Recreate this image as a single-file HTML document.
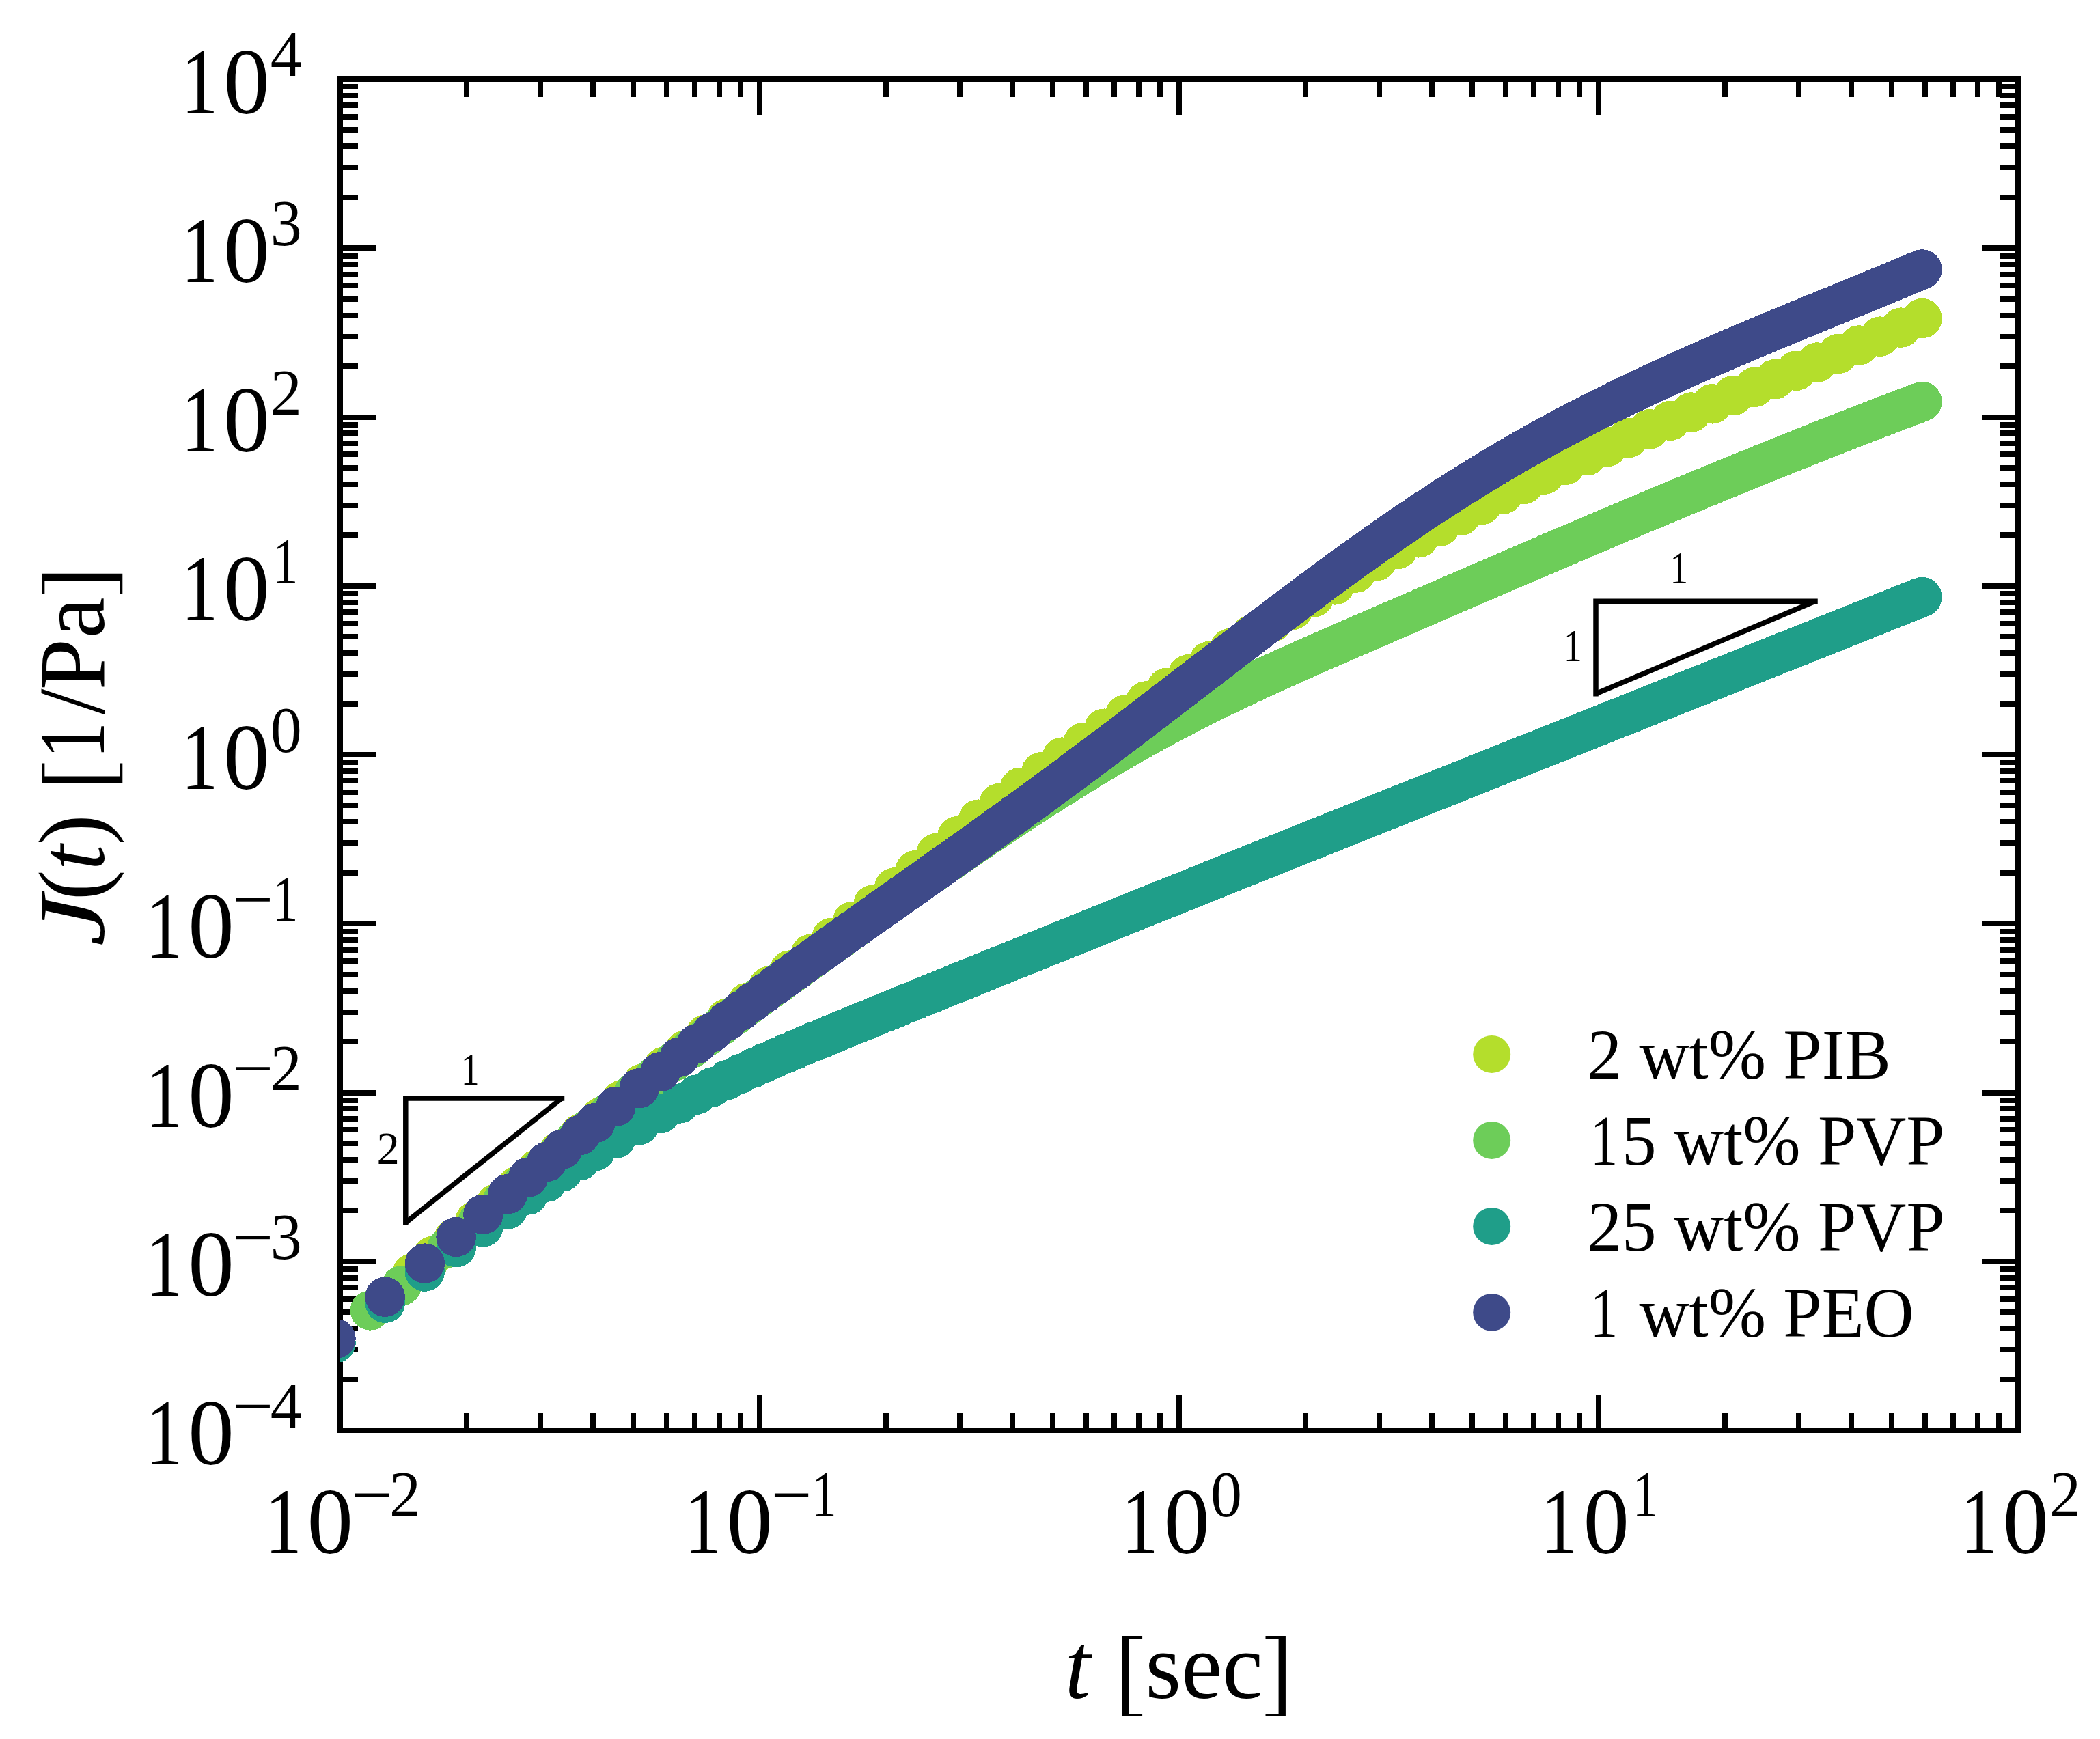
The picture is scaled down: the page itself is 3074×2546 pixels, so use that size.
<!DOCTYPE html>
<html><head><meta charset="utf-8"><title>J(t) creep compliance</title>
<style>html,body{margin:0;padding:0;background:#fff}svg{display:block}text{font-family:"Liberation Serif",serif;fill:#000}.it{font-style:italic}</style></head><body>
<svg width="3074" height="2546" viewBox="0 0 3074 2546">
<rect x="0" y="0" width="3074" height="2546" fill="#fff"/>
<g id="axes" stroke="#000" stroke-width="8" fill="none" stroke-linecap="butt" shape-rendering="crispEdges">
<path d="M682.83 2094.00V2068.00M682.83 116.00V142.00M790.95 2094.00V2068.00M790.95 116.00V142.00M867.66 2094.00V2068.00M867.66 116.00V142.00M927.17 2094.00V2068.00M927.17 116.00V142.00M975.78 2094.00V2068.00M975.78 116.00V142.00M1016.89 2094.00V2068.00M1016.89 116.00V142.00M1052.50 2094.00V2068.00M1052.50 116.00V142.00M1083.90 2094.00V2068.00M1083.90 116.00V142.00M1112.00 2094.00V2042.00M1112.00 116.00V168.00M1296.83 2094.00V2068.00M1296.83 116.00V142.00M1404.95 2094.00V2068.00M1404.95 116.00V142.00M1481.66 2094.00V2068.00M1481.66 116.00V142.00M1541.17 2094.00V2068.00M1541.17 116.00V142.00M1589.78 2094.00V2068.00M1589.78 116.00V142.00M1630.89 2094.00V2068.00M1630.89 116.00V142.00M1666.50 2094.00V2068.00M1666.50 116.00V142.00M1697.90 2094.00V2068.00M1697.90 116.00V142.00M1726.00 2094.00V2042.00M1726.00 116.00V168.00M1910.83 2094.00V2068.00M1910.83 116.00V142.00M2018.95 2094.00V2068.00M2018.95 116.00V142.00M2095.66 2094.00V2068.00M2095.66 116.00V142.00M2155.17 2094.00V2068.00M2155.17 116.00V142.00M2203.78 2094.00V2068.00M2203.78 116.00V142.00M2244.89 2094.00V2068.00M2244.89 116.00V142.00M2280.50 2094.00V2068.00M2280.50 116.00V142.00M2311.90 2094.00V2068.00M2311.90 116.00V142.00M2340.00 2094.00V2042.00M2340.00 116.00V168.00M2524.83 2094.00V2068.00M2524.83 116.00V142.00M2632.95 2094.00V2068.00M2632.95 116.00V142.00M2709.66 2094.00V2068.00M2709.66 116.00V142.00M2769.17 2094.00V2068.00M2769.17 116.00V142.00M2817.78 2094.00V2068.00M2817.78 116.00V142.00M2858.89 2094.00V2068.00M2858.89 116.00V142.00M2894.50 2094.00V2068.00M2894.50 116.00V142.00M2925.90 2094.00V2068.00M2925.90 116.00V142.00M498.00 2019.57H524.00M2954.00 2019.57H2928.00M498.00 1976.03H524.00M2954.00 1976.03H2928.00M498.00 1945.14H524.00M2954.00 1945.14H2928.00M498.00 1921.18H524.00M2954.00 1921.18H2928.00M498.00 1901.60H524.00M2954.00 1901.60H2928.00M498.00 1885.05H524.00M2954.00 1885.05H2928.00M498.00 1870.71H524.00M2954.00 1870.71H2928.00M498.00 1858.06H524.00M2954.00 1858.06H2928.00M498.00 1846.75H550.00M2954.00 1846.75H2902.00M498.00 1772.32H524.00M2954.00 1772.32H2928.00M498.00 1728.78H524.00M2954.00 1728.78H2928.00M498.00 1697.89H524.00M2954.00 1697.89H2928.00M498.00 1673.93H524.00M2954.00 1673.93H2928.00M498.00 1654.35H524.00M2954.00 1654.35H2928.00M498.00 1637.80H524.00M2954.00 1637.80H2928.00M498.00 1623.46H524.00M2954.00 1623.46H2928.00M498.00 1610.81H524.00M2954.00 1610.81H2928.00M498.00 1599.50H550.00M2954.00 1599.50H2902.00M498.00 1525.07H524.00M2954.00 1525.07H2928.00M498.00 1481.53H524.00M2954.00 1481.53H2928.00M498.00 1450.64H524.00M2954.00 1450.64H2928.00M498.00 1426.68H524.00M2954.00 1426.68H2928.00M498.00 1407.10H524.00M2954.00 1407.10H2928.00M498.00 1390.55H524.00M2954.00 1390.55H2928.00M498.00 1376.21H524.00M2954.00 1376.21H2928.00M498.00 1363.56H524.00M2954.00 1363.56H2928.00M498.00 1352.25H550.00M2954.00 1352.25H2902.00M498.00 1277.82H524.00M2954.00 1277.82H2928.00M498.00 1234.28H524.00M2954.00 1234.28H2928.00M498.00 1203.39H524.00M2954.00 1203.39H2928.00M498.00 1179.43H524.00M2954.00 1179.43H2928.00M498.00 1159.85H524.00M2954.00 1159.85H2928.00M498.00 1143.30H524.00M2954.00 1143.30H2928.00M498.00 1128.96H524.00M2954.00 1128.96H2928.00M498.00 1116.31H524.00M2954.00 1116.31H2928.00M498.00 1105.00H550.00M2954.00 1105.00H2902.00M498.00 1030.57H524.00M2954.00 1030.57H2928.00M498.00 987.03H524.00M2954.00 987.03H2928.00M498.00 956.14H524.00M2954.00 956.14H2928.00M498.00 932.18H524.00M2954.00 932.18H2928.00M498.00 912.60H524.00M2954.00 912.60H2928.00M498.00 896.05H524.00M2954.00 896.05H2928.00M498.00 881.71H524.00M2954.00 881.71H2928.00M498.00 869.06H524.00M2954.00 869.06H2928.00M498.00 857.75H550.00M2954.00 857.75H2902.00M498.00 783.32H524.00M2954.00 783.32H2928.00M498.00 739.78H524.00M2954.00 739.78H2928.00M498.00 708.89H524.00M2954.00 708.89H2928.00M498.00 684.93H524.00M2954.00 684.93H2928.00M498.00 665.35H524.00M2954.00 665.35H2928.00M498.00 648.80H524.00M2954.00 648.80H2928.00M498.00 634.46H524.00M2954.00 634.46H2928.00M498.00 621.81H524.00M2954.00 621.81H2928.00M498.00 610.50H550.00M2954.00 610.50H2902.00M498.00 536.07H524.00M2954.00 536.07H2928.00M498.00 492.53H524.00M2954.00 492.53H2928.00M498.00 461.64H524.00M2954.00 461.64H2928.00M498.00 437.68H524.00M2954.00 437.68H2928.00M498.00 418.10H524.00M2954.00 418.10H2928.00M498.00 401.55H524.00M2954.00 401.55H2928.00M498.00 387.21H524.00M2954.00 387.21H2928.00M498.00 374.56H524.00M2954.00 374.56H2928.00M498.00 363.25H550.00M2954.00 363.25H2902.00M498.00 288.82H524.00M2954.00 288.82H2928.00M498.00 245.28H524.00M2954.00 245.28H2928.00M498.00 214.39H524.00M2954.00 214.39H2928.00M498.00 190.43H524.00M2954.00 190.43H2928.00M498.00 170.85H524.00M2954.00 170.85H2928.00M498.00 154.30H524.00M2954.00 154.30H2928.00M498.00 139.96H524.00M2954.00 139.96H2928.00M498.00 127.31H524.00M2954.00 127.31H2928.00"/>
<rect x="498.0" y="116.0" width="2456.0" height="1978.0"/>
</g>
<g id="ticklabels">
<g transform="translate(382.05 2274.00) scale(1 1.024)"><g transform="translate(5.60 0.00) scale(0.8 1)"><text x="0" y="0" font-size="135.0">1</text></g><text x="67.50" y="0" font-size="135.0">0</text><rect x="137.90" y="-85.41" width="49.2" height="4.6" fill="#000"/><text x="187.90" y="-52.73" font-size="92.0">2</text></g>
<g transform="translate(996.05 2274.00) scale(1 1.024)"><g transform="translate(5.60 0.00) scale(0.8 1)"><text x="0" y="0" font-size="135.0">1</text></g><text x="67.50" y="0" font-size="135.0">0</text><rect x="137.90" y="-85.41" width="49.2" height="4.6" fill="#000"/><g transform="translate(191.72 -52.73) scale(0.8 1)"><text x="0" y="0" font-size="92.0">1</text></g></g>
<g transform="translate(1636.00 2274.00) scale(1 1.024)"><g transform="translate(5.60 0.00) scale(0.8 1)"><text x="0" y="0" font-size="135.0">1</text></g><text x="67.50" y="0" font-size="135.0">0</text><text x="136.00" y="-52.73" font-size="92.0">0</text></g>
<g transform="translate(2250.00 2274.00) scale(1 1.024)"><g transform="translate(5.60 0.00) scale(0.8 1)"><text x="0" y="0" font-size="135.0">1</text></g><text x="67.50" y="0" font-size="135.0">0</text><g transform="translate(139.82 -52.73) scale(0.8 1)"><text x="0" y="0" font-size="92.0">1</text></g></g>
<g transform="translate(2864.00 2274.00) scale(1 1.024)"><g transform="translate(5.60 0.00) scale(0.8 1)"><text x="0" y="0" font-size="135.0">1</text></g><text x="67.50" y="0" font-size="135.0">0</text><text x="136.00" y="-52.73" font-size="92.0">2</text></g>
<g transform="translate(207.80 2144.20) scale(1 1.024)"><g transform="translate(5.60 0.00) scale(0.8 1)"><text x="0" y="0" font-size="135.0">1</text></g><text x="67.50" y="0" font-size="135.0">0</text><rect x="137.90" y="-85.41" width="49.2" height="4.6" fill="#000"/><text x="187.90" y="-52.73" font-size="92.0">4</text></g>
<g transform="translate(207.80 1896.95) scale(1 1.024)"><g transform="translate(5.60 0.00) scale(0.8 1)"><text x="0" y="0" font-size="135.0">1</text></g><text x="67.50" y="0" font-size="135.0">0</text><rect x="137.90" y="-85.41" width="49.2" height="4.6" fill="#000"/><text x="187.90" y="-52.73" font-size="92.0">3</text></g>
<g transform="translate(207.80 1649.70) scale(1 1.024)"><g transform="translate(5.60 0.00) scale(0.8 1)"><text x="0" y="0" font-size="135.0">1</text></g><text x="67.50" y="0" font-size="135.0">0</text><rect x="137.90" y="-85.41" width="49.2" height="4.6" fill="#000"/><text x="187.90" y="-52.73" font-size="92.0">2</text></g>
<g transform="translate(207.80 1402.45) scale(1 1.024)"><g transform="translate(5.60 0.00) scale(0.8 1)"><text x="0" y="0" font-size="135.0">1</text></g><text x="67.50" y="0" font-size="135.0">0</text><rect x="137.90" y="-85.41" width="49.2" height="4.6" fill="#000"/><g transform="translate(191.72 -52.73) scale(0.8 1)"><text x="0" y="0" font-size="92.0">1</text></g></g>
<g transform="translate(259.70 1155.20) scale(1 1.024)"><g transform="translate(5.60 0.00) scale(0.8 1)"><text x="0" y="0" font-size="135.0">1</text></g><text x="67.50" y="0" font-size="135.0">0</text><text x="136.00" y="-52.73" font-size="92.0">0</text></g>
<g transform="translate(259.70 907.95) scale(1 1.024)"><g transform="translate(5.60 0.00) scale(0.8 1)"><text x="0" y="0" font-size="135.0">1</text></g><text x="67.50" y="0" font-size="135.0">0</text><g transform="translate(139.82 -52.73) scale(0.8 1)"><text x="0" y="0" font-size="92.0">1</text></g></g>
<g transform="translate(259.70 660.70) scale(1 1.024)"><g transform="translate(5.60 0.00) scale(0.8 1)"><text x="0" y="0" font-size="135.0">1</text></g><text x="67.50" y="0" font-size="135.0">0</text><text x="136.00" y="-52.73" font-size="92.0">2</text></g>
<g transform="translate(259.70 413.45) scale(1 1.024)"><g transform="translate(5.60 0.00) scale(0.8 1)"><text x="0" y="0" font-size="135.0">1</text></g><text x="67.50" y="0" font-size="135.0">0</text><text x="136.00" y="-52.73" font-size="92.0">3</text></g>
<g transform="translate(259.70 166.20) scale(1 1.024)"><g transform="translate(5.60 0.00) scale(0.8 1)"><text x="0" y="0" font-size="135.0">1</text></g><text x="67.50" y="0" font-size="135.0">0</text><text x="136.00" y="-52.73" font-size="92.0">4</text></g>
</g>
<g id="titles">
<g transform="translate(1558.8 2486.0) scale(1 1.024)"><text x="0" y="0" font-size="135.0" class="it">t</text></g>
<path transform="translate(1642.7 2486.0)" d="M0 -90.9H29.4V-86.85000000000001H10.3V23.05H29.4V27.1H0Z"/>
<g transform="translate(1676.6 2486.0) scale(1 1.024)"><text x="0" y="0" font-size="135.0">sec</text></g>
<path transform="translate(1852.5 2486.0)" d="M29.4 -90.9H0V-86.85000000000001H19.099999999999998V23.05H0V27.1H29.4Z"/>
<g transform="translate(152.2 1385.5) rotate(-90) scale(1.25 1.024)"><text x="0" y="0" font-size="135.0" class="it">J</text></g>
<g transform="translate(152.2 1318.2) rotate(-90) scale(1.0 1.024)"><text x="0" y="0" font-size="135.0">(</text></g>
<g transform="translate(152.2 1274.2) rotate(-90) scale(1.0 1.024)"><text x="0" y="0" font-size="135.0" class="it">t</text></g>
<g transform="translate(152.2 1237.3) rotate(-90) scale(1.0 1.024)"><text x="0" y="0" font-size="135.0">)</text></g>
<path transform="translate(152.2 1146.9) rotate(-90)" d="M0 -90.9H29.4V-86.85000000000001H10.3V23.05H29.4V27.1H0Z"/>
<g transform="translate(152.2 1110.7) rotate(-90) scale(0.8 1.024)"><text x="0" y="0" font-size="135.0">1</text></g>
<g transform="translate(152.2 1046.1) rotate(-90) scale(1.0 1.024)"><text x="0" y="0" font-size="135.0">/</text></g>
<g transform="translate(152.2 1010.3) rotate(-90) scale(1.0 1.024)"><text x="0" y="0" font-size="135.0">P</text></g>
<g transform="translate(152.2 934.3) rotate(-90) scale(1.0 1.024)"><text x="0" y="0" font-size="135.0">a</text></g>
<path transform="translate(152.2 869.2) rotate(-90)" d="M29.4 -90.9H0V-86.85000000000001H19.099999999999998V23.05H0V27.1H29.4Z"/>
</g>
<g id="legend">
<circle cx="2183.7" cy="1543.4" r="27.5" fill="#B4DE2C"/>
<g transform="translate(2323.5 1578.6) scale(1 1.024)"><text x="0" y="0" font-size="101.25">2 wt% PIB</text></g>
<circle cx="2183.7" cy="1669.4" r="27.5" fill="#6DCD59"/>
<g transform="translate(2323.5 1704.6) scale(1 1.024)"><g transform="translate(4.20 0.00) scale(0.8 1)"><text x="0" y="0" font-size="101.25">1</text></g><text x="50.62" y="0" font-size="101.25">5 wt% PVP</text></g>
<circle cx="2183.7" cy="1795.4" r="27.5" fill="#1F9E89"/>
<g transform="translate(2323.5 1830.6) scale(1 1.024)"><text x="0" y="0" font-size="101.25">25 wt% PVP</text></g>
<circle cx="2183.7" cy="1921.4" r="27.5" fill="#3E4A89"/>
<g transform="translate(2323.5 1956.6) scale(1 1.024)"><g transform="translate(4.20 0.00) scale(0.8 1)"><text x="0" y="0" font-size="101.25">1</text></g><text x="75.94" y="0" font-size="101.25">wt% PEO</text></g>
</g>
<g id="triangles" stroke="#000" stroke-width="7.5" fill="none" stroke-linecap="square">
<path d="M593.8 1790.0V1607.9M593.8 1607.9H822.5"/>
<path stroke-linecap="butt" d="M822.5 1607.9L593.8 1790.0"/>
<path d="M2336.0 1015.7V880.2M2336.0 880.2H2657.0"/>
<path stroke-linecap="butt" d="M2657.0 880.2L2336.0 1015.7"/>
</g>
<g id="trilabels">
<g transform="translate(675.1 1588) scale(0.8 1.024)"><text x="0" y="0" font-size="66.5">1</text></g>
<g transform="translate(551.5 1703.8) scale(1.0 1.024)"><text x="0" y="0" font-size="66.5">2</text></g>
<g transform="translate(2444.6 853.9) scale(0.8 1.024)"><text x="0" y="0" font-size="66.5">1</text></g>
<g transform="translate(2289.1 968.1) scale(0.8 1.024)"><text x="0" y="0" font-size="66.5">1</text></g>
</g>
<clipPath id="pc"><rect x="498.0" y="116.0" width="2456.0" height="1978.0"/></clipPath><g id="data" clip-path="url(#pc)" shape-rendering="crispEdges"><g fill="#B4DE2C"><circle cx="603.1" cy="1864.6" r="29.25"/><circle cx="633.8" cy="1838.7" r="29.25"/><circle cx="664.5" cy="1813.1" r="29.25"/><circle cx="695.2" cy="1787.7" r="29.25"/><circle cx="725.9" cy="1762.3" r="29.25"/><circle cx="756.6" cy="1736.8" r="29.25"/><circle cx="787.3" cy="1711.3" r="29.25"/><circle cx="818.0" cy="1685.9" r="29.25"/><circle cx="848.7" cy="1660.5" r="29.25"/><circle cx="879.4" cy="1635.5" r="29.25"/><circle cx="910.1" cy="1610.6" r="29.25"/><circle cx="940.8" cy="1586.2" r="29.25"/><circle cx="971.5" cy="1562.1" r="29.25"/><circle cx="1002.2" cy="1538.2" r="29.25"/><circle cx="1032.9" cy="1514.6" r="29.25"/><circle cx="1063.6" cy="1491.1" r="29.25"/><circle cx="1094.3" cy="1467.6" r="29.25"/><circle cx="1125.0" cy="1444.2" r="29.25"/><circle cx="1155.7" cy="1420.6" r="29.25"/><circle cx="1186.4" cy="1397.0" r="29.25"/><circle cx="1217.1" cy="1373.1" r="29.25"/><circle cx="1247.8" cy="1348.9" r="29.25"/><circle cx="1278.5" cy="1324.4" r="29.25"/><circle cx="1309.2" cy="1299.4" r="29.25"/><circle cx="1339.9" cy="1274.3" r="29.25"/><circle cx="1370.6" cy="1249.2" r="29.25"/><circle cx="1401.3" cy="1224.2" r="29.25"/><circle cx="1432.0" cy="1199.7" r="29.25"/><circle cx="1462.7" cy="1175.9" r="29.25"/><circle cx="1493.4" cy="1152.8" r="29.25"/><circle cx="1524.1" cy="1130.4" r="29.25"/><circle cx="1554.8" cy="1108.6" r="29.25"/><circle cx="1585.5" cy="1087.4" r="29.25"/><circle cx="1616.2" cy="1066.7" r="29.25"/><circle cx="1646.9" cy="1046.4" r="29.25"/><circle cx="1677.6" cy="1026.4" r="29.25"/><circle cx="1708.3" cy="1006.8" r="29.25"/><circle cx="1739.0" cy="987.4" r="29.25"/><circle cx="1769.7" cy="968.2" r="29.25"/><circle cx="1800.4" cy="949.1" r="29.25"/><circle cx="1831.1" cy="930.1" r="29.25"/><circle cx="1861.8" cy="911.3" r="29.25"/><circle cx="1892.5" cy="892.8" r="29.25"/><circle cx="1923.2" cy="874.4" r="29.25"/><circle cx="1953.9" cy="856.4" r="29.25"/><circle cx="1984.6" cy="838.6" r="29.25"/><circle cx="2015.3" cy="821.2" r="29.25"/><circle cx="2046.0" cy="804.0" r="29.25"/><circle cx="2076.7" cy="787.3" r="29.25"/><circle cx="2107.4" cy="770.8" r="29.25"/><circle cx="2138.1" cy="754.8" r="29.25"/><circle cx="2168.8" cy="739.1" r="29.25"/><circle cx="2199.5" cy="723.9" r="29.25"/><circle cx="2230.2" cy="709.1" r="29.25"/><circle cx="2260.9" cy="694.7" r="29.25"/><circle cx="2291.6" cy="680.7" r="29.25"/><circle cx="2322.3" cy="667.2" r="29.25"/><circle cx="2353.0" cy="653.9" r="29.25"/><circle cx="2383.7" cy="641.0" r="29.25"/><circle cx="2414.4" cy="628.3" r="29.25"/><circle cx="2445.1" cy="615.8" r="29.25"/><circle cx="2475.8" cy="603.5" r="29.25"/><circle cx="2506.5" cy="591.3" r="29.25"/><circle cx="2537.2" cy="579.1" r="29.25"/><circle cx="2567.9" cy="567.0" r="29.25"/><circle cx="2598.6" cy="554.9" r="29.25"/><circle cx="2629.3" cy="542.8" r="29.25"/><circle cx="2660.0" cy="530.5" r="29.25"/><circle cx="2690.7" cy="518.1" r="29.25"/><circle cx="2721.4" cy="505.5" r="29.25"/><circle cx="2752.1" cy="492.7" r="29.25"/><circle cx="2782.8" cy="479.6" r="29.25"/><circle cx="2813.5" cy="466.2" r="29.25"/></g><g fill="#6DCD59"><circle cx="541.9" cy="1918.4" r="29.25"/><circle cx="587.7" cy="1882.3" r="29.25"/><circle cx="625.0" cy="1852.1" r="29.25"/><circle cx="654.1" cy="1827.6" r="29.25"/><circle cx="699.4" cy="1789.2" r="29.25"/><circle cx="735.0" cy="1758.9" r="29.25"/><circle cx="764.9" cy="1733.6" r="29.25"/><circle cx="792.5" cy="1710.4" r="29.25"/><circle cx="815.5" cy="1691.1" r="29.25"/><circle cx="841.0" cy="1670.0" r="29.25"/><circle cx="863.5" cy="1651.6" r="29.25"/><circle cx="893.5" cy="1627.3" r="29.25"/><circle cx="927.5" cy="1600.2" r="29.25"/><circle cx="958.7" cy="1575.7" r="29.25"/><circle cx="986.6" cy="1554.1" r="29.25"/><circle cx="1011.9" cy="1534.8" r="29.25"/><circle cx="1035.0" cy="1517.3" r="29.25"/><circle cx="1056.2" cy="1501.3" r="29.25"/><circle cx="1075.9" cy="1486.6" r="29.25"/><circle cx="1094.2" cy="1473.0" r="29.25"/><circle cx="1111.3" cy="1460.4" r="29.25"/><circle cx="1127.4" cy="1448.5" r="29.25"/><circle cx="1142.6" cy="1437.4" r="29.25"/><circle cx="1157.0" cy="1427.0" r="29.25"/><circle cx="1170.6" cy="1417.1" r="29.25"/><circle cx="1183.6" cy="1407.7" r="29.25"/><circle cx="1196.0" cy="1398.7" r="29.25"/><circle cx="1207.8" cy="1390.2" r="29.25"/><circle cx="1219.1" cy="1382.1" r="29.25"/><circle cx="1230.0" cy="1374.3" r="29.25"/><circle cx="1240.4" cy="1366.9" r="29.25"/><circle cx="1250.4" cy="1359.7" r="29.25"/><circle cx="1260.1" cy="1352.8" r="29.25"/><circle cx="1269.5" cy="1346.2" r="29.25"/><circle cx="1278.5" cy="1339.7" r="29.25"/><circle cx="1287.2" cy="1333.5" r="29.25"/><circle cx="1295.7" cy="1327.5" r="29.25"/><circle cx="1303.9" cy="1321.7" r="29.25"/><circle cx="1311.8" cy="1316.1" r="29.25"/><circle cx="1319.5" cy="1310.7" r="29.25"/><circle cx="1327.0" cy="1305.4" r="29.25"/><circle cx="1334.3" cy="1300.2" r="29.25"/><circle cx="1341.4" cy="1295.2" r="29.25"/><circle cx="1348.3" cy="1290.4" r="29.25"/><circle cx="1355.1" cy="1285.6" r="29.25"/><circle cx="1361.6" cy="1281.0" r="29.25"/><circle cx="1368.1" cy="1276.6" r="29.25"/><circle cx="1374.3" cy="1272.2" r="29.25"/><circle cx="1380.4" cy="1267.9" r="29.25"/><circle cx="1386.4" cy="1263.8" r="29.25"/><circle cx="1392.3" cy="1259.7" r="29.25"/><circle cx="1398.0" cy="1255.8" r="29.25"/><circle cx="1403.6" cy="1251.9" r="29.25"/><circle cx="1409.1" cy="1248.1" r="29.25"/><circle cx="1414.5" cy="1244.4" r="29.25"/><circle cx="1419.8" cy="1240.8" r="29.25"/><circle cx="1424.9" cy="1237.3" r="29.25"/><circle cx="1430.0" cy="1233.8" r="29.25"/><circle cx="1435.0" cy="1230.4" r="29.25"/><circle cx="1439.9" cy="1227.1" r="29.25"/><circle cx="1444.7" cy="1223.8" r="29.25"/><circle cx="1449.4" cy="1220.6" r="29.25"/><circle cx="1454.0" cy="1217.5" r="29.25"/><circle cx="1458.6" cy="1214.5" r="29.25"/><circle cx="1463.0" cy="1211.5" r="29.25"/><circle cx="1467.5" cy="1208.5" r="29.25"/><circle cx="1471.8" cy="1205.6" r="29.25"/><circle cx="1476.0" cy="1202.8" r="29.25"/><circle cx="1480.2" cy="1200.0" r="29.25"/><circle cx="1484.4" cy="1197.2" r="29.25"/><circle cx="1488.4" cy="1194.5" r="29.25"/><circle cx="1492.4" cy="1191.9" r="29.25"/><circle cx="1496.4" cy="1189.3" r="29.25"/><circle cx="1500.3" cy="1186.7" r="29.25"/><circle cx="1504.1" cy="1184.2" r="29.25"/><circle cx="1507.9" cy="1181.8" r="29.25"/><circle cx="1511.6" cy="1179.3" r="29.25"/><circle cx="1515.3" cy="1176.9" r="29.25"/><circle cx="1518.9" cy="1174.6" r="29.25"/><circle cx="1522.5" cy="1172.3" r="29.25"/><circle cx="1526.0" cy="1170.0" r="29.25"/><circle cx="1529.5" cy="1167.8" r="29.25"/><circle cx="1532.9" cy="1165.6" r="29.25"/><circle cx="1536.3" cy="1163.4" r="29.25"/><circle cx="1539.7" cy="1161.2" r="29.25"/><circle cx="1543.0" cy="1159.1" r="29.25"/><circle cx="1546.3" cy="1157.0" r="29.25"/><circle cx="1549.5" cy="1155.0" r="29.25"/><circle cx="1552.7" cy="1153.0" r="29.25"/><circle cx="1555.8" cy="1151.0" r="29.25"/><circle cx="1559.0" cy="1149.0" r="29.25"/><circle cx="1562.0" cy="1147.1" r="29.25"/><circle cx="1565.1" cy="1145.2" r="29.25"/><circle cx="1568.1" cy="1143.3" r="29.25"/><polyline points="1568.1,1143.3 1572.1,1140.8 1576.1,1138.3 1580.1,1135.9 1584.1,1133.4 1588.1,1130.9 1592.1,1128.5 1596.1,1126.0 1600.1,1123.6 1604.1,1121.2 1608.1,1118.8 1612.1,1116.4 1616.1,1114.0 1620.1,1111.6 1624.1,1109.2 1628.1,1106.9 1632.1,1104.5 1636.1,1102.2 1640.1,1099.8 1644.1,1097.5 1648.1,1095.2 1652.1,1092.9 1656.1,1090.6 1660.1,1088.3 1664.1,1086.0 1668.1,1083.8 1672.1,1081.5 1676.1,1079.3 1680.1,1077.0 1684.1,1074.8 1688.1,1072.6 1692.1,1070.4 1696.1,1068.2 1700.1,1066.1 1704.1,1063.9 1708.1,1061.8 1712.1,1059.6 1716.1,1057.5 1720.1,1055.4 1724.1,1053.3 1728.1,1051.2 1732.1,1049.1 1736.1,1047.0 1740.1,1045.0 1744.1,1042.9 1748.1,1040.9 1752.1,1038.8 1756.1,1036.8 1760.1,1034.8 1764.1,1032.8 1768.1,1030.8 1772.1,1028.8 1776.1,1026.8 1780.1,1024.9 1784.1,1022.9 1788.1,1020.9 1792.1,1019.0 1796.1,1017.1 1800.1,1015.1 1804.1,1013.2 1808.1,1011.3 1812.1,1009.4 1816.1,1007.5 1820.1,1005.6 1824.1,1003.7 1828.1,1001.8 1832.1,1000.0 1836.1,998.1 1840.1,996.2 1844.1,994.4 1848.1,992.5 1852.1,990.7 1856.1,988.9 1860.1,987.0 1864.1,985.2 1868.1,983.4 1872.1,981.6 1876.1,979.8 1880.1,978.0 1884.1,976.2 1888.1,974.4 1892.1,972.6 1896.1,970.8 1900.1,969.0 1904.1,967.2 1908.1,965.5 1912.1,963.7 1916.1,961.9 1920.1,960.2 1924.1,958.4 1928.1,956.6 1932.1,954.9 1936.1,953.1 1940.1,951.4 1944.1,949.6 1948.1,947.9 1952.1,946.1 1956.1,944.4 1960.1,942.7 1964.1,940.9 1968.1,939.2 1972.1,937.4 1976.1,935.7 1980.1,934.0 1984.1,932.2 1988.1,930.5 1992.1,928.8 1996.1,927.0 2000.1,925.3 2004.1,923.6 2008.1,921.8 2012.1,920.1 2016.1,918.4 2020.1,916.6 2024.1,914.9 2028.1,913.2 2032.1,911.4 2036.1,909.7 2040.1,908.0 2044.1,906.2 2048.1,904.5 2052.1,902.8 2056.1,901.0 2060.1,899.3 2064.1,897.6 2068.1,895.8 2072.1,894.1 2076.1,892.4 2080.1,890.6 2084.1,888.9 2088.1,887.2 2092.1,885.4 2096.1,883.7 2100.1,882.0 2104.1,880.3 2108.1,878.5 2112.1,876.8 2116.1,875.1 2120.1,873.3 2124.1,871.6 2128.1,869.9 2132.1,868.1 2136.1,866.4 2140.1,864.7 2144.1,863.0 2148.1,861.2 2152.1,859.5 2156.1,857.8 2160.1,856.1 2164.1,854.3 2168.1,852.6 2172.1,850.9 2176.1,849.2 2180.1,847.4 2184.1,845.7 2188.1,844.0 2192.1,842.3 2196.1,840.5 2200.1,838.8 2204.1,837.1 2208.1,835.4 2212.1,833.7 2216.1,831.9 2220.1,830.2 2224.1,828.5 2228.1,826.8 2232.1,825.1 2236.1,823.3 2240.1,821.6 2244.1,819.9 2248.1,818.2 2252.1,816.5 2256.1,814.8 2260.1,813.1 2264.1,811.3 2268.1,809.6 2272.1,807.9 2276.1,806.2 2280.1,804.5 2284.1,802.8 2288.1,801.1 2292.1,799.4 2296.1,797.7 2300.1,796.0 2304.1,794.3 2308.1,792.6 2312.1,790.9 2316.1,789.2 2320.1,787.5 2324.1,785.8 2328.1,784.1 2332.1,782.4 2336.1,780.7 2340.1,779.0 2344.1,777.3 2348.1,775.6 2352.1,773.9 2356.1,772.2 2360.1,770.5 2364.1,768.8 2368.1,767.1 2372.1,765.4 2376.1,763.7 2380.1,762.1 2384.1,760.4 2388.1,758.7 2392.1,757.0 2396.1,755.3 2400.1,753.6 2404.1,752.0 2408.1,750.3 2412.1,748.6 2416.1,746.9 2420.1,745.3 2424.1,743.6 2428.1,741.9 2432.1,740.2 2436.1,738.6 2440.1,736.9 2444.1,735.2 2448.1,733.6 2452.1,731.9 2456.1,730.2 2460.1,728.6 2464.1,726.9 2468.1,725.2 2472.1,723.6 2476.1,721.9 2480.1,720.3 2484.1,718.6 2488.1,717.0 2492.1,715.3 2496.1,713.7 2500.1,712.0 2504.1,710.4 2508.1,708.7 2512.1,707.1 2516.1,705.4 2520.1,703.8 2524.1,702.1 2528.1,700.5 2532.1,698.9 2536.1,697.2 2540.1,695.6 2544.1,694.0 2548.1,692.3 2552.1,690.7 2556.1,689.1 2560.1,687.4 2564.1,685.8 2568.1,684.2 2572.1,682.6 2576.1,680.9 2580.1,679.3 2584.1,677.7 2588.1,676.1 2592.1,674.5 2596.1,672.9 2600.1,671.2 2604.1,669.6 2608.1,668.0 2612.1,666.4 2616.1,664.8 2620.1,663.2 2624.1,661.6 2628.1,660.0 2632.1,658.4 2636.1,656.8 2640.1,655.2 2644.1,653.6 2648.1,652.0 2652.1,650.5 2656.1,648.9 2660.1,647.3 2664.1,645.7 2668.1,644.1 2672.1,642.5 2676.1,641.0 2680.1,639.4 2684.1,637.8 2688.1,636.2 2692.1,634.7 2696.1,633.1 2700.1,631.5 2704.1,630.0 2708.1,628.4 2712.1,626.9 2716.1,625.3 2720.1,623.7 2724.1,622.2 2728.1,620.6 2732.1,619.1 2736.1,617.5 2740.1,616.0 2744.1,614.4 2748.1,612.9 2752.1,611.4 2756.1,609.8 2760.1,608.3 2764.1,606.8 2768.1,605.2 2772.1,603.7 2776.1,602.2 2780.1,600.7 2784.1,599.1 2788.1,597.6 2792.1,596.1 2796.1,594.6 2800.1,593.1 2804.1,591.6 2808.1,590.0 2812.1,588.5 2813.5,588.0" fill="none" stroke="#6DCD59" stroke-width="58.5" stroke-linecap="round" stroke-linejoin="round"/></g><g fill="#1F9E89"><circle cx="491.5" cy="1966.1" r="29.25"/><circle cx="563.7" cy="1907.7" r="29.25"/><circle cx="621.8" cy="1861.6" r="29.25"/><circle cx="667.7" cy="1826.2" r="29.25"/><circle cx="707.4" cy="1796.4" r="29.25"/><circle cx="743.0" cy="1770.5" r="29.25"/><circle cx="772.9" cy="1749.5" r="29.25"/><circle cx="800.5" cy="1730.6" r="29.25"/><circle cx="823.5" cy="1715.4" r="29.25"/><circle cx="849.0" cy="1699.0" r="29.25"/><circle cx="871.5" cy="1685.0" r="29.25"/><circle cx="901.5" cy="1666.9" r="29.25"/><circle cx="935.5" cy="1647.3" r="29.25"/><circle cx="966.7" cy="1630.2" r="29.25"/><circle cx="994.6" cy="1615.5" r="29.25"/><circle cx="1019.9" cy="1602.7" r="29.25"/><circle cx="1043.0" cy="1591.4" r="29.25"/><circle cx="1064.2" cy="1581.2" r="29.25"/><circle cx="1083.9" cy="1572.1" r="29.25"/><circle cx="1102.2" cy="1563.7" r="29.25"/><circle cx="1119.3" cy="1556.1" r="29.25"/><circle cx="1135.4" cy="1549.0" r="29.25"/><circle cx="1150.6" cy="1542.4" r="29.25"/><circle cx="1165.0" cy="1536.2" r="29.25"/><circle cx="1178.6" cy="1530.4" r="29.25"/><circle cx="1191.6" cy="1524.9" r="29.25"/><circle cx="1204.0" cy="1519.8" r="29.25"/><circle cx="1215.8" cy="1514.9" r="29.25"/><circle cx="1227.1" cy="1510.2" r="29.25"/><circle cx="1238.0" cy="1505.7" r="29.25"/><circle cx="1248.4" cy="1501.4" r="29.25"/><circle cx="1258.4" cy="1497.3" r="29.25"/><circle cx="1268.1" cy="1493.4" r="29.25"/><circle cx="1277.5" cy="1489.6" r="29.25"/><circle cx="1286.5" cy="1485.9" r="29.25"/><circle cx="1295.2" cy="1482.3" r="29.25"/><circle cx="1303.7" cy="1478.9" r="29.25"/><circle cx="1311.9" cy="1475.5" r="29.25"/><circle cx="1319.8" cy="1472.3" r="29.25"/><circle cx="1327.5" cy="1469.1" r="29.25"/><circle cx="1335.0" cy="1466.1" r="29.25"/><circle cx="1342.3" cy="1463.1" r="29.25"/><circle cx="1349.4" cy="1460.2" r="29.25"/><circle cx="1356.3" cy="1457.4" r="29.25"/><circle cx="1363.1" cy="1454.7" r="29.25"/><circle cx="1369.6" cy="1452.0" r="29.25"/><circle cx="1376.1" cy="1449.4" r="29.25"/><circle cx="1382.3" cy="1446.9" r="29.25"/><circle cx="1388.4" cy="1444.4" r="29.25"/><circle cx="1394.4" cy="1441.9" r="29.25"/><circle cx="1400.3" cy="1439.6" r="29.25"/><circle cx="1406.0" cy="1437.2" r="29.25"/><circle cx="1411.6" cy="1435.0" r="29.25"/><circle cx="1417.1" cy="1432.7" r="29.25"/><circle cx="1422.5" cy="1430.6" r="29.25"/><circle cx="1427.8" cy="1428.4" r="29.25"/><circle cx="1432.9" cy="1426.3" r="29.25"/><circle cx="1438.0" cy="1424.3" r="29.25"/><circle cx="1443.0" cy="1422.2" r="29.25"/><circle cx="1447.9" cy="1420.3" r="29.25"/><circle cx="1452.7" cy="1418.3" r="29.25"/><circle cx="1457.4" cy="1416.4" r="29.25"/><circle cx="1462.0" cy="1414.5" r="29.25"/><circle cx="1466.6" cy="1412.7" r="29.25"/><circle cx="1471.0" cy="1410.9" r="29.25"/><circle cx="1475.5" cy="1409.1" r="29.25"/><circle cx="1479.8" cy="1407.3" r="29.25"/><circle cx="1484.0" cy="1405.6" r="29.25"/><circle cx="1488.2" cy="1403.9" r="29.25"/><circle cx="1492.4" cy="1402.2" r="29.25"/><circle cx="1496.4" cy="1400.6" r="29.25"/><circle cx="1500.4" cy="1399.0" r="29.25"/><circle cx="1504.4" cy="1397.4" r="29.25"/><circle cx="1508.3" cy="1395.8" r="29.25"/><circle cx="1512.1" cy="1394.3" r="29.25"/><circle cx="1515.9" cy="1392.7" r="29.25"/><circle cx="1519.6" cy="1391.2" r="29.25"/><circle cx="1523.3" cy="1389.7" r="29.25"/><circle cx="1526.9" cy="1388.3" r="29.25"/><circle cx="1530.5" cy="1386.8" r="29.25"/><circle cx="1534.0" cy="1385.4" r="29.25"/><circle cx="1537.5" cy="1384.0" r="29.25"/><circle cx="1540.9" cy="1382.6" r="29.25"/><circle cx="1544.3" cy="1381.2" r="29.25"/><circle cx="1547.7" cy="1379.9" r="29.25"/><circle cx="1551.0" cy="1378.5" r="29.25"/><circle cx="1554.3" cy="1377.2" r="29.25"/><circle cx="1557.5" cy="1375.9" r="29.25"/><circle cx="1560.7" cy="1374.6" r="29.25"/><circle cx="1563.8" cy="1373.3" r="29.25"/><circle cx="1567.0" cy="1372.1" r="29.25"/><circle cx="1570.0" cy="1370.8" r="29.25"/><circle cx="1573.1" cy="1369.6" r="29.25"/><circle cx="1576.1" cy="1368.4" r="29.25"/><polyline points="1576.1,1368.4 1580.1,1366.8 1584.1,1365.2 1588.1,1363.6 1592.1,1361.9 1596.1,1360.3 1600.1,1358.7 1604.1,1357.1 1608.1,1355.5 1612.1,1353.9 1616.1,1352.3 1620.1,1350.7 1624.1,1349.0 1628.1,1347.4 1632.1,1345.8 1636.1,1344.2 1640.1,1342.6 1644.1,1341.0 1648.1,1339.4 1652.1,1337.8 1656.1,1336.2 1660.1,1334.6 1664.1,1332.9 1668.1,1331.3 1672.1,1329.7 1676.1,1328.1 1680.1,1326.5 1684.1,1324.9 1688.1,1323.3 1692.1,1321.7 1696.1,1320.1 1700.1,1318.5 1704.1,1316.9 1708.1,1315.2 1712.1,1313.6 1716.1,1312.0 1720.1,1310.4 1724.1,1308.8 1728.1,1307.2 1732.1,1305.6 1736.1,1304.0 1740.1,1302.4 1744.1,1300.8 1748.1,1299.2 1752.1,1297.6 1756.1,1296.0 1760.1,1294.4 1764.1,1292.8 1768.1,1291.1 1772.1,1289.5 1776.1,1287.9 1780.1,1286.3 1784.1,1284.7 1788.1,1283.1 1792.1,1281.5 1796.1,1279.9 1800.1,1278.3 1804.1,1276.7 1808.1,1275.1 1812.1,1273.5 1816.1,1271.9 1820.1,1270.3 1824.1,1268.7 1828.1,1267.1 1832.1,1265.5 1836.1,1263.9 1840.1,1262.3 1844.1,1260.7 1848.1,1259.1 1852.1,1257.5 1856.1,1255.9 1860.1,1254.3 1864.1,1252.7 1868.1,1251.1 1872.1,1249.5 1876.1,1247.9 1880.1,1246.3 1884.1,1244.7 1888.1,1243.1 1892.1,1241.5 1896.1,1239.9 1900.1,1238.3 1904.1,1236.6 1908.1,1235.0 1912.1,1233.4 1916.1,1231.8 1920.1,1230.2 1924.1,1228.6 1928.1,1227.0 1932.1,1225.4 1936.1,1223.8 1940.1,1222.2 1944.1,1220.6 1948.1,1219.1 1952.1,1217.5 1956.1,1215.9 1960.1,1214.3 1964.1,1212.7 1968.1,1211.1 1972.1,1209.5 1976.1,1207.9 1980.1,1206.3 1984.1,1204.7 1988.1,1203.1 1992.1,1201.5 1996.1,1199.9 2000.1,1198.3 2004.1,1196.7 2008.1,1195.1 2012.1,1193.5 2016.1,1191.9 2020.1,1190.3 2024.1,1188.7 2028.1,1187.1 2032.1,1185.5 2036.1,1183.9 2040.1,1182.3 2044.1,1180.7 2048.1,1179.1 2052.1,1177.5 2056.1,1175.9 2060.1,1174.3 2064.1,1172.7 2068.1,1171.1 2072.1,1169.5 2076.1,1167.9 2080.1,1166.3 2084.1,1164.7 2088.1,1163.1 2092.1,1161.5 2096.1,1159.9 2100.1,1158.3 2104.1,1156.8 2108.1,1155.2 2112.1,1153.6 2116.1,1152.0 2120.1,1150.4 2124.1,1148.8 2128.1,1147.2 2132.1,1145.6 2136.1,1144.0 2140.1,1142.4 2144.1,1140.8 2148.1,1139.2 2152.1,1137.6 2156.1,1136.0 2160.1,1134.4 2164.1,1132.8 2168.1,1131.2 2172.1,1129.6 2176.1,1128.0 2180.1,1126.4 2184.1,1124.9 2188.1,1123.3 2192.1,1121.7 2196.1,1120.1 2200.1,1118.5 2204.1,1116.9 2208.1,1115.3 2212.1,1113.7 2216.1,1112.1 2220.1,1110.5 2224.1,1108.9 2228.1,1107.3 2232.1,1105.7 2236.1,1104.1 2240.1,1102.5 2244.1,1100.9 2248.1,1099.3 2252.1,1097.8 2256.1,1096.2 2260.1,1094.6 2264.1,1093.0 2268.1,1091.4 2272.1,1089.8 2276.1,1088.2 2280.1,1086.6 2284.1,1085.0 2288.1,1083.4 2292.1,1081.8 2296.1,1080.2 2300.1,1078.6 2304.1,1077.0 2308.1,1075.4 2312.1,1073.9 2316.1,1072.3 2320.1,1070.7 2324.1,1069.1 2328.1,1067.5 2332.1,1065.9 2336.1,1064.3 2340.1,1062.7 2344.1,1061.1 2348.1,1059.5 2352.1,1057.9 2356.1,1056.3 2360.1,1054.7 2364.1,1053.1 2368.1,1051.5 2372.1,1050.0 2376.1,1048.4 2380.1,1046.8 2384.1,1045.2 2388.1,1043.6 2392.1,1042.0 2396.1,1040.4 2400.1,1038.8 2404.1,1037.2 2408.1,1035.6 2412.1,1034.0 2416.1,1032.4 2420.1,1030.8 2424.1,1029.2 2428.1,1027.7 2432.1,1026.1 2436.1,1024.5 2440.1,1022.9 2444.1,1021.3 2448.1,1019.7 2452.1,1018.1 2456.1,1016.5 2460.1,1014.9 2464.1,1013.3 2468.1,1011.7 2472.1,1010.1 2476.1,1008.5 2480.1,1006.9 2484.1,1005.4 2488.1,1003.8 2492.1,1002.2 2496.1,1000.6 2500.1,999.0 2504.1,997.4 2508.1,995.8 2512.1,994.2 2516.1,992.6 2520.1,991.0 2524.1,989.4 2528.1,987.8 2532.1,986.2 2536.1,984.6 2540.1,983.0 2544.1,981.4 2548.1,979.9 2552.1,978.3 2556.1,976.7 2560.1,975.1 2564.1,973.5 2568.1,971.9 2572.1,970.3 2576.1,968.7 2580.1,967.1 2584.1,965.5 2588.1,963.9 2592.1,962.3 2596.1,960.7 2600.1,959.1 2604.1,957.5 2608.1,955.9 2612.1,954.3 2616.1,952.8 2620.1,951.2 2624.1,949.6 2628.1,948.0 2632.1,946.4 2636.1,944.8 2640.1,943.2 2644.1,941.6 2648.1,940.0 2652.1,938.4 2656.1,936.8 2660.1,935.2 2664.1,933.6 2668.1,932.0 2672.1,930.4 2676.1,928.8 2680.1,927.2 2684.1,925.6 2688.1,924.0 2692.1,922.4 2696.1,920.9 2700.1,919.3 2704.1,917.7 2708.1,916.1 2712.1,914.5 2716.1,912.9 2720.1,911.3 2724.1,909.7 2728.1,908.1 2732.1,906.5 2736.1,904.9 2740.1,903.3 2744.1,901.7 2748.1,900.1 2752.1,898.5 2756.1,896.9 2760.1,895.3 2764.1,893.7 2768.1,892.1 2772.1,890.5 2776.1,888.9 2780.1,887.3 2784.1,885.7 2788.1,884.1 2792.1,882.5 2796.1,880.9 2800.1,879.3 2804.1,877.7 2808.1,876.1 2812.1,874.5 2813.5,874.0" fill="none" stroke="#1F9E89" stroke-width="58.5" stroke-linecap="round" stroke-linejoin="round"/></g><g fill="#3E4A89"><circle cx="491.5" cy="1959.9" r="29.25"/><circle cx="563.7" cy="1898.7" r="29.25"/><circle cx="621.8" cy="1849.6" r="29.25"/><circle cx="667.7" cy="1811.0" r="29.25"/><circle cx="707.4" cy="1777.8" r="29.25"/><circle cx="743.0" cy="1748.3" r="29.25"/><circle cx="772.9" cy="1723.7" r="29.25"/><circle cx="800.5" cy="1701.1" r="29.25"/><circle cx="823.5" cy="1682.4" r="29.25"/><circle cx="849.0" cy="1661.9" r="29.25"/><circle cx="871.5" cy="1643.9" r="29.25"/><circle cx="901.5" cy="1620.0" r="29.25"/><circle cx="935.5" cy="1593.3" r="29.25"/><circle cx="966.7" cy="1569.1" r="29.25"/><circle cx="994.6" cy="1547.6" r="29.25"/><circle cx="1019.9" cy="1528.3" r="29.25"/><circle cx="1043.0" cy="1510.8" r="29.25"/><circle cx="1064.2" cy="1494.9" r="29.25"/><circle cx="1083.9" cy="1480.3" r="29.25"/><circle cx="1102.2" cy="1466.7" r="29.25"/><circle cx="1119.3" cy="1454.1" r="29.25"/><circle cx="1135.4" cy="1442.4" r="29.25"/><circle cx="1150.6" cy="1431.3" r="29.25"/><circle cx="1165.0" cy="1420.9" r="29.25"/><circle cx="1178.6" cy="1411.1" r="29.25"/><circle cx="1191.6" cy="1401.8" r="29.25"/><circle cx="1204.0" cy="1392.9" r="29.25"/><circle cx="1215.8" cy="1384.4" r="29.25"/><circle cx="1227.1" cy="1376.4" r="29.25"/><circle cx="1238.0" cy="1368.6" r="29.25"/><circle cx="1248.4" cy="1361.2" r="29.25"/><circle cx="1258.4" cy="1354.1" r="29.25"/><circle cx="1268.1" cy="1347.2" r="29.25"/><circle cx="1277.5" cy="1340.6" r="29.25"/><circle cx="1286.5" cy="1334.2" r="29.25"/><circle cx="1295.2" cy="1328.0" r="29.25"/><circle cx="1303.7" cy="1322.0" r="29.25"/><circle cx="1311.9" cy="1316.3" r="29.25"/><circle cx="1319.8" cy="1310.6" r="29.25"/><circle cx="1327.5" cy="1305.2" r="29.25"/><circle cx="1335.0" cy="1299.9" r="29.25"/><circle cx="1342.3" cy="1294.7" r="29.25"/><circle cx="1349.4" cy="1289.7" r="29.25"/><circle cx="1356.3" cy="1284.8" r="29.25"/><circle cx="1363.1" cy="1280.0" r="29.25"/><circle cx="1369.6" cy="1275.4" r="29.25"/><circle cx="1376.1" cy="1270.8" r="29.25"/><circle cx="1382.3" cy="1266.4" r="29.25"/><circle cx="1388.4" cy="1262.0" r="29.25"/><circle cx="1394.4" cy="1257.8" r="29.25"/><circle cx="1400.3" cy="1253.6" r="29.25"/><circle cx="1406.0" cy="1249.5" r="29.25"/><circle cx="1411.6" cy="1245.6" r="29.25"/><circle cx="1417.1" cy="1241.6" r="29.25"/><circle cx="1422.5" cy="1237.8" r="29.25"/><circle cx="1427.8" cy="1234.0" r="29.25"/><circle cx="1432.9" cy="1230.3" r="29.25"/><circle cx="1438.0" cy="1226.7" r="29.25"/><circle cx="1443.0" cy="1223.2" r="29.25"/><circle cx="1447.9" cy="1219.7" r="29.25"/><circle cx="1452.7" cy="1216.2" r="29.25"/><circle cx="1457.4" cy="1212.8" r="29.25"/><circle cx="1462.0" cy="1209.5" r="29.25"/><circle cx="1466.6" cy="1206.2" r="29.25"/><circle cx="1471.0" cy="1203.0" r="29.25"/><circle cx="1475.5" cy="1199.8" r="29.25"/><circle cx="1479.8" cy="1196.7" r="29.25"/><circle cx="1484.0" cy="1193.6" r="29.25"/><circle cx="1488.2" cy="1190.6" r="29.25"/><circle cx="1492.4" cy="1187.6" r="29.25"/><circle cx="1496.4" cy="1184.6" r="29.25"/><circle cx="1500.4" cy="1181.7" r="29.25"/><circle cx="1504.4" cy="1178.9" r="29.25"/><circle cx="1508.3" cy="1176.0" r="29.25"/><circle cx="1512.1" cy="1173.2" r="29.25"/><circle cx="1515.9" cy="1170.5" r="29.25"/><circle cx="1519.6" cy="1167.8" r="29.25"/><circle cx="1523.3" cy="1165.1" r="29.25"/><circle cx="1526.9" cy="1162.4" r="29.25"/><circle cx="1530.5" cy="1159.8" r="29.25"/><circle cx="1534.0" cy="1157.2" r="29.25"/><circle cx="1537.5" cy="1154.6" r="29.25"/><circle cx="1540.9" cy="1152.1" r="29.25"/><circle cx="1544.3" cy="1149.6" r="29.25"/><circle cx="1547.7" cy="1147.1" r="29.25"/><circle cx="1551.0" cy="1144.7" r="29.25"/><circle cx="1554.3" cy="1142.3" r="29.25"/><circle cx="1557.5" cy="1139.9" r="29.25"/><circle cx="1560.7" cy="1137.5" r="29.25"/><circle cx="1563.8" cy="1135.2" r="29.25"/><circle cx="1567.0" cy="1132.9" r="29.25"/><circle cx="1570.0" cy="1130.6" r="29.25"/><circle cx="1573.1" cy="1128.3" r="29.25"/><circle cx="1576.1" cy="1126.1" r="29.25"/><polyline points="1576.1,1126.1 1580.1,1123.1 1584.1,1120.1 1588.1,1117.1 1592.1,1114.1 1596.1,1111.1 1600.1,1108.1 1604.1,1105.1 1608.1,1102.1 1612.1,1099.1 1616.1,1096.1 1620.1,1093.0 1624.1,1090.0 1628.1,1087.0 1632.1,1084.0 1636.1,1080.9 1640.1,1077.9 1644.1,1074.9 1648.1,1071.8 1652.1,1068.8 1656.1,1065.8 1660.1,1062.7 1664.1,1059.7 1668.1,1056.6 1672.1,1053.6 1676.1,1050.5 1680.1,1047.5 1684.1,1044.4 1688.1,1041.4 1692.1,1038.3 1696.1,1035.2 1700.1,1032.2 1704.1,1029.1 1708.1,1026.1 1712.1,1023.0 1716.1,1019.9 1720.1,1016.9 1724.1,1013.8 1728.1,1010.7 1732.1,1007.7 1736.1,1004.6 1740.1,1001.5 1744.1,998.5 1748.1,995.4 1752.1,992.3 1756.1,989.3 1760.1,986.2 1764.1,983.1 1768.1,980.1 1772.1,977.0 1776.1,973.9 1780.1,970.9 1784.1,967.8 1788.1,964.8 1792.1,961.7 1796.1,958.6 1800.1,955.6 1804.1,952.5 1808.1,949.5 1812.1,946.4 1816.1,943.4 1820.1,940.3 1824.1,937.3 1828.1,934.2 1832.1,931.2 1836.1,928.1 1840.1,925.1 1844.1,922.0 1848.1,919.0 1852.1,916.0 1856.1,912.9 1860.1,909.9 1864.1,906.9 1868.1,903.8 1872.1,900.8 1876.1,897.8 1880.1,894.8 1884.1,891.8 1888.1,888.8 1892.1,885.7 1896.1,882.7 1900.1,879.7 1904.1,876.8 1908.1,873.8 1912.1,870.8 1916.1,867.8 1920.1,864.8 1924.1,861.9 1928.1,858.9 1932.1,855.9 1936.1,853.0 1940.1,850.0 1944.1,847.1 1948.1,844.1 1952.1,841.2 1956.1,838.3 1960.1,835.3 1964.1,832.4 1968.1,829.5 1972.1,826.6 1976.1,823.7 1980.1,820.8 1984.1,818.0 1988.1,815.1 1992.1,812.2 1996.1,809.4 2000.1,806.5 2004.1,803.7 2008.1,800.8 2012.1,798.0 2016.1,795.2 2020.1,792.4 2024.1,789.6 2028.1,786.8 2032.1,784.0 2036.1,781.2 2040.1,778.4 2044.1,775.7 2048.1,772.9 2052.1,770.2 2056.1,767.4 2060.1,764.7 2064.1,762.0 2068.1,759.3 2072.1,756.6 2076.1,753.9 2080.1,751.2 2084.1,748.6 2088.1,745.9 2092.1,743.3 2096.1,740.6 2100.1,738.0 2104.1,735.4 2108.1,732.8 2112.1,730.2 2116.1,727.6 2120.1,725.0 2124.1,722.5 2128.1,719.9 2132.1,717.4 2136.1,714.8 2140.1,712.3 2144.1,709.8 2148.1,707.3 2152.1,704.8 2156.1,702.3 2160.1,699.8 2164.1,697.4 2168.1,694.9 2172.1,692.5 2176.1,690.1 2180.1,687.6 2184.1,685.2 2188.1,682.8 2192.1,680.4 2196.1,678.1 2200.1,675.7 2204.1,673.3 2208.1,671.0 2212.1,668.7 2216.1,666.3 2220.1,664.0 2224.1,661.7 2228.1,659.4 2232.1,657.2 2236.1,654.9 2240.1,652.6 2244.1,650.4 2248.1,648.2 2252.1,645.9 2256.1,643.7 2260.1,641.5 2264.1,639.3 2268.1,637.1 2272.1,635.0 2276.1,632.8 2280.1,630.7 2284.1,628.5 2288.1,626.4 2292.1,624.3 2296.1,622.1 2300.1,620.0 2304.1,617.9 2308.1,615.9 2312.1,613.8 2316.1,611.7 2320.1,609.7 2324.1,607.6 2328.1,605.6 2332.1,603.5 2336.1,601.5 2340.1,599.5 2344.1,597.5 2348.1,595.5 2352.1,593.5 2356.1,591.5 2360.1,589.6 2364.1,587.6 2368.1,585.6 2372.1,583.7 2376.1,581.7 2380.1,579.8 2384.1,577.9 2388.1,576.0 2392.1,574.1 2396.1,572.2 2400.1,570.3 2404.1,568.4 2408.1,566.5 2412.1,564.6 2416.1,562.7 2420.1,560.9 2424.1,559.0 2428.1,557.2 2432.1,555.3 2436.1,553.5 2440.1,551.7 2444.1,549.8 2448.1,548.0 2452.1,546.2 2456.1,544.4 2460.1,542.6 2464.1,540.8 2468.1,539.0 2472.1,537.2 2476.1,535.4 2480.1,533.7 2484.1,531.9 2488.1,530.1 2492.1,528.4 2496.1,526.6 2500.1,524.9 2504.1,523.1 2508.1,521.4 2512.1,519.6 2516.1,517.9 2520.1,516.2 2524.1,514.5 2528.1,512.7 2532.1,511.0 2536.1,509.3 2540.1,507.6 2544.1,505.9 2548.1,504.2 2552.1,502.5 2556.1,500.8 2560.1,499.1 2564.1,497.4 2568.1,495.7 2572.1,494.1 2576.1,492.4 2580.1,490.7 2584.1,489.0 2588.1,487.4 2592.1,485.7 2596.1,484.0 2600.1,482.4 2604.1,480.7 2608.1,479.0 2612.1,477.4 2616.1,475.7 2620.1,474.1 2624.1,472.4 2628.1,470.8 2632.1,469.1 2636.1,467.5 2640.1,465.8 2644.1,464.2 2648.1,462.5 2652.1,460.9 2656.1,459.3 2660.1,457.6 2664.1,456.0 2668.1,454.3 2672.1,452.7 2676.1,451.1 2680.1,449.4 2684.1,447.8 2688.1,446.2 2692.1,444.5 2696.1,442.9 2700.1,441.2 2704.1,439.6 2708.1,438.0 2712.1,436.3 2716.1,434.7 2720.1,433.0 2724.1,431.4 2728.1,429.8 2732.1,428.1 2736.1,426.5 2740.1,424.8 2744.1,423.2 2748.1,421.5 2752.1,419.9 2756.1,418.3 2760.1,416.6 2764.1,415.0 2768.1,413.3 2772.1,411.6 2776.1,410.0 2780.1,408.3 2784.1,406.7 2788.1,405.0 2792.1,403.3 2796.1,401.7 2800.1,400.0 2804.1,398.3 2808.1,396.6 2812.1,395.0 2813.5,394.4" fill="none" stroke="#3E4A89" stroke-width="58.5" stroke-linecap="round" stroke-linejoin="round"/></g></g>
</svg></body></html>
